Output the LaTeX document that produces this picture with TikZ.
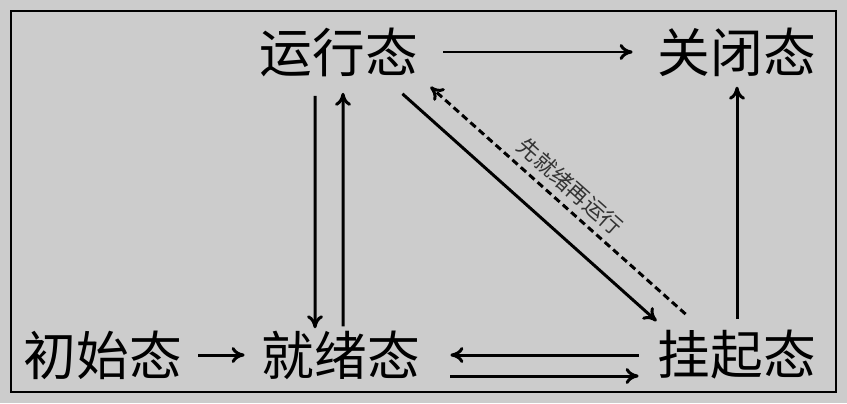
\documentclass[tikz,border=0pt]{standalone}
\usepackage{fontspec}
\usepackage{tikz}
\usetikzlibrary{positioning,arrows.meta,calc}
\newfontfamily\cjk{Noto Sans CJK SC}
\definecolor{panelgray}{RGB}{204,204,204}

\begin{document}
\begin{tikzpicture}[x=0.02cm, y=-0.02cm,
    state/.style={inner sep=0pt, font=\cjk\fontsize{30}{36}\selectfont},
    arr/.style={line width=1.7pt, -{To[length=2.6mm,width=3.2mm]}},
    tip/.style={font=\cjk\fontsize{12.5}{15}\selectfont, inner sep=4pt, text=black!80}]
                    \useasboundingbox (0,0) rectangle (847,403);
                    \fill[panelgray] (0,0) rectangle (847,403);
                    \draw[line width=1.6pt] (11,11) rectangle (836,392);

                    \node[state] (run) at (339,52) {运行态};
                    \node[state] (close) at (737,52) {关闭态};
                    \node[state] (init) at (103,355) {初始态};
                    \node[state] (ready) at (341,355) {就绪态};
                    \node[state] (susp) at (737,355) {挂起态};

                    \draw[arr, shorten <=0.5cm, shorten >=0.5cm] (run.east) -- (close.west);
                    \draw[arr, shorten <=0.32cm, shorten >=0.34cm] (init.east) -- (ready.west);
                    \draw[arr, shorten <=0.38cm, shorten >=0.04cm] ([xshift=-0.48cm]run.south) -- ([xshift=-0.52cm]ready.north);
                    \draw[arr, shorten <=0.08cm, shorten >=0.32cm] ([xshift=0.04cm]ready.north) -- ([xshift=0.08cm]run.south);
                    \draw[arr, shorten <=0.22cm, shorten >=0.2cm] (susp.north) -- (close.south);
                    \draw[arr] ($(run.south east)+(-16,17)$) -- ($(susp.north west)+(-1,-9)$);
                    \draw[arr, dash pattern=on 4pt off 2.4pt] ($(susp.north west)+(28,-16)$) -- ($(run.south east)+(12,10)$)
                        node[tip, midway, sloped, above] {先就绪再运行};
                    \draw[arr, shorten <=0.38cm, shorten >=0.6cm] (susp.west) -- (ready.east);
                    \draw[arr, shorten <=0.6cm, shorten >=0.38cm] ([yshift=-0.42cm]ready.east) -- ([yshift=-0.42cm]susp.west);
                \end{tikzpicture}
\end{document}
